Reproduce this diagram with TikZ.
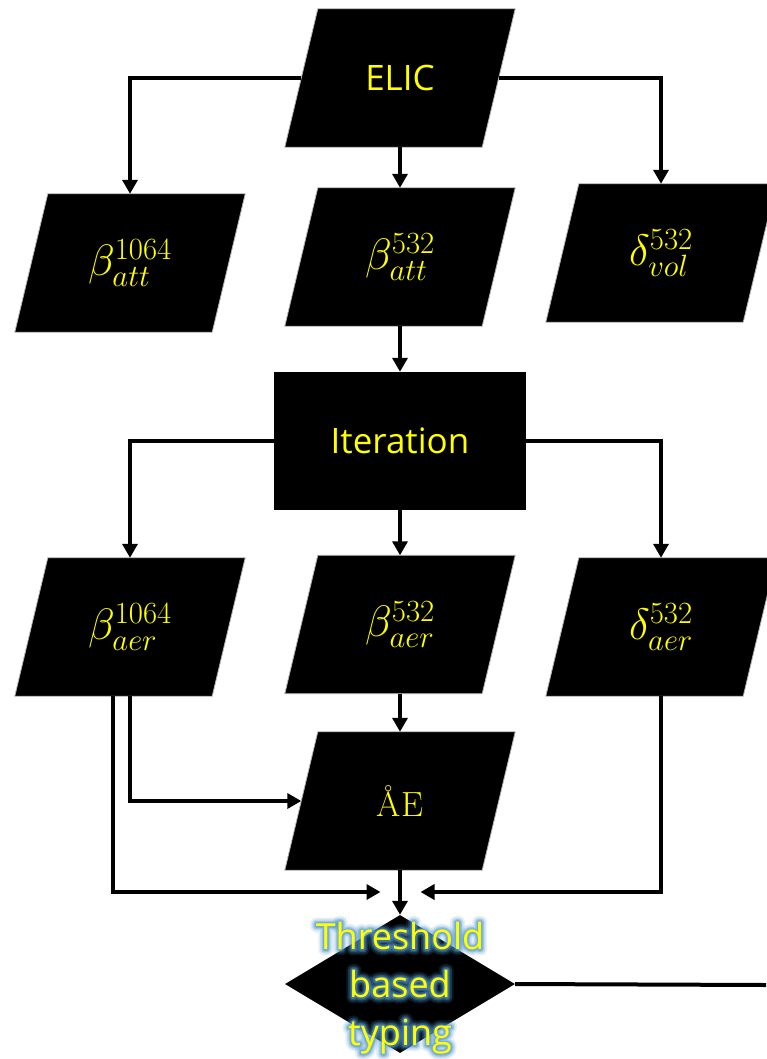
\RequirePackage{fix-cm}
\documentclass[tikz,border=0pt]{standalone}
\usepackage{fontspec}
\setsansfont{Open Sans}
\usetikzlibrary{arrows.meta,shapes.geometric,backgrounds}
\definecolor{ylw}{RGB}{255,255,0}
\definecolor{glowc}{RGB}{80,150,205}
\newcommand\parafill[1]{%
  \filldraw[fill=black, draw=gray!60, line width=0.8pt]
    ([xshift=-16.5pt]#1.south west) -- ([xshift=-16.5pt]#1.south east) --
    ([xshift=16.5pt]#1.north east) -- ([xshift=16.5pt]#1.north west) -- cycle;}
\newcommand\glw[3]{\pgfsetstrokeopacity{#2}\special{pdf:literal direct 1 Tr #1 w 1 j 1 J}#3}
\newcommand\glowlayer[2]{%
  \node[thr, text=glowc] at (400,988) {\glw{#1}{#2}{Threshold}\\\glw{#1}{#2}{based}\\\glw{#1}{#2}{typing}};}
\begin{document}
\begin{tikzpicture}[x=1pt,y=-1pt,
  para/.style={rectangle, minimum width=197pt, minimum height=138pt, inner sep=0pt, text=ylw},
  procbox/.style={rectangle, fill=black, minimum width=252pt, minimum height=138pt, inner sep=0pt, text=ylw},
  decbox/.style={diamond, fill=black, minimum width=230pt, minimum height=138pt, inner sep=0pt},
  arr/.style={line width=4pt, -{Triangle[width=15pt,length=14pt]}},
  ln/.style={line width=4pt},
  lab/.style={font=\fontsize{35}{40}\selectfont\sffamily},
  mlab/.style={font=\fontsize{44}{48}\selectfont},
  aelab/.style={font=\fontsize{35}{40}\selectfont\rmfamily},
  thr/.style={font=\fontsize{36}{48}\selectfont\sffamily, align=center, inner sep=0pt},
]
\useasboundingbox (0,0) rectangle (766,1059);
% nodes
\node[para, lab]  (elic)    at (400,78)    {ELIC};
\node[para, mlab] (batt1)   at (130,263) {$\beta^{1064}_{att}$};
\node[para, mlab] (batt2)   at (400,257)   {$\beta^{532}_{att}$};
\node[para, mlab] (dvol)    at (661,253)   {$\delta^{532}_{vol}$};
\node[procbox, lab] (iter)  at (400,441)   {Iteration};
\node[para, mlab] (baer1)   at (130,627) {$\beta^{1064}_{aer}$};
\node[para, mlab] (baer2)   at (400,624.5) {$\beta^{532}_{aer}$};
\node[para, mlab] (daer)    at (661,627)   {$\delta^{532}_{aer}$};
\node[para, aelab] (ae)     at (400,801)   {ÅE};
\node[decbox] (dia) at (400,984) {};
\begin{scope}[on background layer]
  \parafill{elic}\parafill{batt1}\parafill{batt2}\parafill{dvol}
  \parafill{baer1}\parafill{baer2}\parafill{daer}\parafill{ae}
\end{scope}
% glow text
\glowlayer{12}{0.15}
\glowlayer{8.5}{0.22}
\glowlayer{5.5}{0.35}
\glowlayer{3}{0.5}
\node[thr, text=ylw] (thrtxt) at (400,988) {\special{pdf:literal direct 0 Tr}Threshold\\based\\typing};
% coordinates
\coordinate (jl) at (380.5,892);
\coordinate (jr) at (420.5,892);
\coordinate (out) at (766,985);
% connectors
\draw[arr] (elic.west) -| (batt1.north);
\draw[arr] (elic.south) -- (batt2.north);
\draw[arr] (elic.east) -| (dvol.north);
\draw[arr] (batt2.south) -- (iter.north);
\draw[arr] (iter.west) -| (baer1.north);
\draw[arr] (iter.south) -- (baer2.north);
\draw[arr] (iter.east) -| (daer.north);
\draw[arr] (baer2.south) -- (ae.north);
\draw[arr] (baer1.south) |- (ae.west);
\draw[arr] ([xshift=-17.5pt]baer1.south) |- (jl);
\draw[arr] (daer.south) |- (jr);
\draw[arr] (ae.south) -- (dia.north);
\draw[ln] (dia.east) -- (out);
\end{tikzpicture}
\end{document}
